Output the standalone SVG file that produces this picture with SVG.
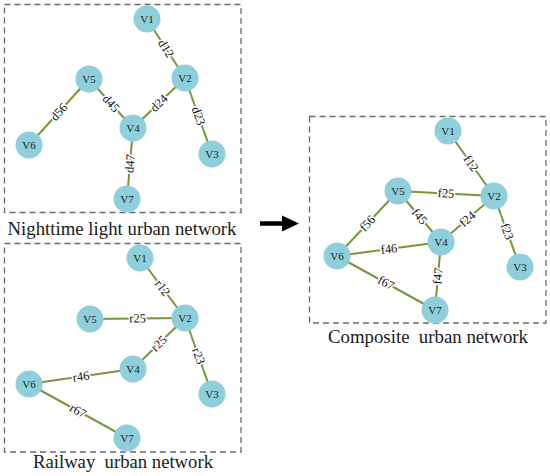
<svg xmlns="http://www.w3.org/2000/svg" width="550" height="476" viewBox="0 0 550 476">
<style>
.box{fill:none;stroke:#6a6a6a;stroke-width:1.3;stroke-dasharray:6 4}
.e{stroke:#76973a;stroke-width:2;fill:none}
.n circle{fill:#8ecfdb}
.n text{font-family:"Liberation Serif","Times New Roman",serif;font-size:11px;fill:#222;text-anchor:middle;dominant-baseline:central}
.el{font-family:"Liberation Serif","Times New Roman",serif;font-size:12.5px;fill:#111;text-anchor:middle;dominant-baseline:central;stroke:#fff;stroke-width:3;paint-order:stroke;stroke-linejoin:round}
.title{font-family:"Liberation Serif","Times New Roman",serif;font-size:18px;fill:#1a1a1a;text-anchor:middle;white-space:pre}
</style>
<rect width="550" height="476" fill="#fff"/>
<!-- panel boxes -->
<rect class="box" x="4.5" y="4.5" width="236.5" height="208"/>
<rect class="box" x="4.5" y="243.5" width="236.5" height="208.5"/>
<rect class="box" x="309.5" y="116.5" width="236.5" height="206.5"/>
<text class="title" x="122" y="235" textLength="229" lengthAdjust="spacingAndGlyphs">Nighttime light urban network</text>
<text class="title" x="123" y="468" textLength="180" lengthAdjust="spacingAndGlyphs" xml:space="preserve">Railway  urban network</text>
<text class="title" x="428" y="343" textLength="200" lengthAdjust="spacingAndGlyphs" xml:space="preserve">Composite  urban network</text>
<!-- arrow -->
<g id="arrow">
<line x1="260" y1="223.5" x2="285" y2="223.5" stroke="#000" stroke-width="4.5"/>
<polygon points="282,215.5 299,223.5 282,231.5" fill="#000"/>
</g>
<!-- connectors -->
<g id="connectors">
<line class="e" x1="147" y1="19" x2="185" y2="78"/>
<line class="e" x1="185" y1="78" x2="212" y2="154"/>
<line class="e" x1="133" y1="128" x2="185" y2="78"/>
<line class="e" x1="89" y1="79" x2="133" y2="128"/>
<line class="e" x1="29" y1="145" x2="89" y2="79"/>
<line class="e" x1="127" y1="199" x2="133" y2="128"/>

<line class="e" x1="140" y1="258" x2="185" y2="318"/>
<line class="e" x1="90" y1="319" x2="185" y2="318"/>
<line class="e" x1="133" y1="369" x2="185" y2="318"/>
<line class="e" x1="185" y1="318" x2="212" y2="394"/>
<line class="e" x1="29" y1="384" x2="133" y2="369"/>
<line class="e" x1="29" y1="384" x2="127" y2="438"/>

<line class="e" x1="448" y1="131" x2="494" y2="196"/>
<line class="e" x1="398" y1="191" x2="494" y2="196"/>
<line class="e" x1="441" y1="242" x2="494" y2="196"/>
<line class="e" x1="494" y1="196" x2="520" y2="267"/>
<line class="e" x1="398" y1="191" x2="441" y2="242"/>
<line class="e" x1="337" y1="256" x2="398" y2="191"/>
<line class="e" x1="337" y1="256" x2="441" y2="242"/>
<line class="e" x1="435" y1="310" x2="441" y2="242"/>
<line class="e" x1="337" y1="256" x2="435" y2="310"/>

<text class="el" transform="translate(166,48.5) rotate(57.2)">d12</text>
<text class="el" transform="translate(198.5,116) rotate(70.4)">d23</text>
<text class="el" transform="translate(159,103) rotate(-43.9)">d24</text>
<text class="el" transform="translate(111,103.5) rotate(48.1)">d45</text>
<text class="el" transform="translate(59,112) rotate(-47.7)">d56</text>
<text class="el" transform="translate(130,163.5) rotate(-85.2)">d47</text>

<text class="el" transform="translate(162.5,288) rotate(53.1)">r12</text>
<text class="el" transform="translate(137.5,318.5) rotate(-0.6)">r25</text>
<text class="el" transform="translate(159,343.5) rotate(-44.4)">r25</text>
<text class="el" transform="translate(198.5,356) rotate(70.4)">r23</text>
<text class="el" transform="translate(81,376.5) rotate(-8.2)">r46</text>
<text class="el" transform="translate(78,411) rotate(28.9)">r67</text>

<text class="el" transform="translate(471,163.5) rotate(54.7)">f12</text>
<text class="el" transform="translate(446,193.5) rotate(3)">f25</text>
<text class="el" transform="translate(467.5,219) rotate(-41)">f24</text>
<text class="el" transform="translate(507,231.5) rotate(69.9)">f23</text>
<text class="el" transform="translate(419.5,216.5) rotate(49.9)">f45</text>
<text class="el" transform="translate(367.5,223.5) rotate(-46.8)">f56</text>
<text class="el" transform="translate(389,249) rotate(-7.7)">f46</text>
<text class="el" transform="translate(438,276) rotate(-85)">f47</text>
<text class="el" transform="translate(386,283) rotate(28.9)">f67</text>
</g>
<!-- nighttime light network nodes -->
<g id="n1-V1" class="n"><circle cx="147" cy="19" r="13.5"/><text x="147" y="19">V1</text></g>
<g id="n1-V2" class="n"><circle cx="185" cy="78" r="13.5"/><text x="185" y="78">V2</text></g>
<g id="n1-V3" class="n"><circle cx="212" cy="154" r="13.5"/><text x="212" y="154">V3</text></g>
<g id="n1-V4" class="n"><circle cx="133" cy="128" r="13.5"/><text x="133" y="128">V4</text></g>
<g id="n1-V5" class="n"><circle cx="89" cy="79" r="13.5"/><text x="89" y="79">V5</text></g>
<g id="n1-V6" class="n"><circle cx="29" cy="145" r="13.5"/><text x="29" y="145">V6</text></g>
<g id="n1-V7" class="n"><circle cx="127" cy="199" r="13.5"/><text x="127" y="199">V7</text></g>
<!-- railway network nodes -->
<g id="n2-V1" class="n"><circle cx="140" cy="258" r="13.5"/><text x="140" y="258">V1</text></g>
<g id="n2-V2" class="n"><circle cx="185" cy="318" r="13.5"/><text x="185" y="318">V2</text></g>
<g id="n2-V3" class="n"><circle cx="212" cy="394" r="13.5"/><text x="212" y="394">V3</text></g>
<g id="n2-V4" class="n"><circle cx="133" cy="369" r="13.5"/><text x="133" y="369">V4</text></g>
<g id="n2-V5" class="n"><circle cx="90" cy="319" r="13.5"/><text x="90" y="319">V5</text></g>
<g id="n2-V6" class="n"><circle cx="29" cy="384" r="13.5"/><text x="29" y="384">V6</text></g>
<g id="n2-V7" class="n"><circle cx="127" cy="438" r="13.5"/><text x="127" y="438">V7</text></g>
<!-- composite network nodes -->
<g id="n3-V1" class="n"><circle cx="448" cy="131" r="13.5"/><text x="448" y="131">V1</text></g>
<g id="n3-V2" class="n"><circle cx="494" cy="196" r="13.5"/><text x="494" y="196">V2</text></g>
<g id="n3-V3" class="n"><circle cx="520" cy="267" r="13.5"/><text x="520" y="267">V3</text></g>
<g id="n3-V4" class="n"><circle cx="441" cy="242" r="13.5"/><text x="441" y="242">V4</text></g>
<g id="n3-V5" class="n"><circle cx="398" cy="191" r="13.5"/><text x="398" y="191">V5</text></g>
<g id="n3-V6" class="n"><circle cx="337" cy="256" r="13.5"/><text x="337" y="256">V6</text></g>
<g id="n3-V7" class="n"><circle cx="435" cy="310" r="13.5"/><text x="435" y="310">V7</text></g>
</svg>
